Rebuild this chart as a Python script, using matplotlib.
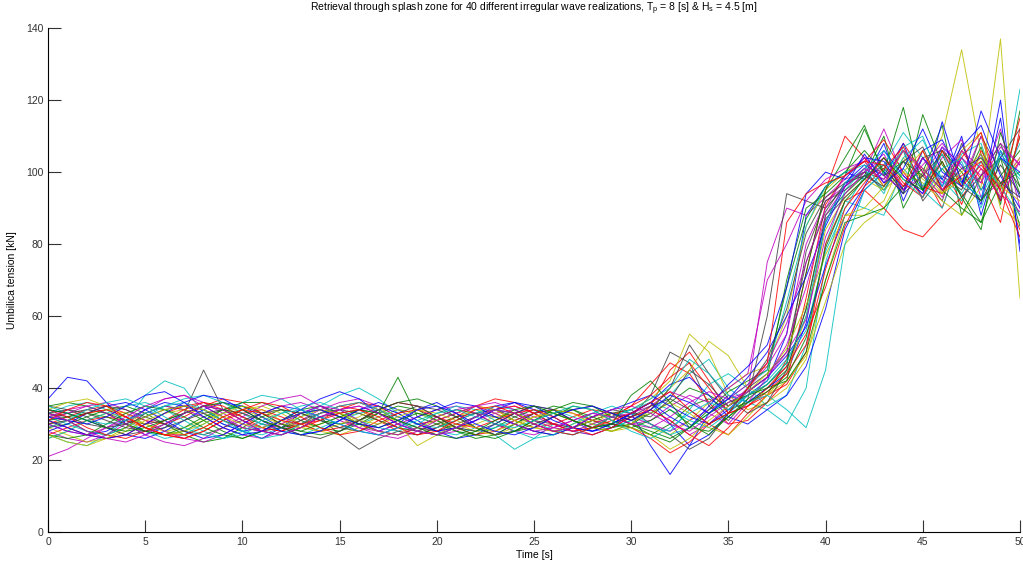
import numpy as np
import matplotlib
matplotlib.use('Agg')
import matplotlib.pyplot as plt

# time axis, one sample per second
time_s = list(range(0, 51))

# umbilical tension [kN], one list per wave realization
s01 = [37,43,42,36,30,27,29,33,35,32,28,26,29,33,35,33,30,28,30,34,36,33,29,27,30,33,34,31,28,29,33, 36,30,24,27,33,38, 42,55,88,96,100,98, 108,92,104,96,110,88,106,93]
s02 = [33,31,28,27,29,33,35,34,31,28,26,28,31,34,35,33,30,28,27,29,32,34,33,30,28,29,32,35,34,31,29, 27,30,35,37,34,36, 40,45,62,88,94,99, 110,90,100,113,88,99,108,94]
s03 = [30,32,34,35,33,31,30,32,35,37,36,33,30,29,31,34,36,35,32,30,31,33,35,34,31,29,30,32,34,33,30, 35,45,50,42,33,35, 38,48,72,95,110,104, 96,108,100,90,106,98,86,112]
s04 = [27,25,24,27,31,38,42,40,33,30,28,27,29,32,35,38,40,37,33,30,28,27,29,27,23,26,30,28,27,29,31, 33,38,44,48,40,36, 34,30,40,75,92,90, 88,101,95,90,105,108,92,123]
s05 = [21,23,26,29,31,33,35,34,32,29,27,26,28,31,34,36,37,35,32,30,28,29,31,33,34,32,30,29,31,33,32, 30,28,31,34,37,39, 75,90,88,93,98,100, 112,99,94,104,109,93,97,104]
s06 = [26,28,31,33,32,30,28,29,31,33,34,32,30,29,30,32,33,31,29,28,30,32,34,33,31,29,28,30,32,33,31, 29,27,31,36,40,44, 46,60,85,95,100,103, 96,103,99,110,134,105,96,104]
s07 = [32,33,34,33,31,30,31,33,45,34,32,30,29,30,32,33,34,33,31,29,28,30,32,34,33,31,30,29,31,33,32, 38,50,47,35,31,37, 60,94,92,90,96,100, 98,106,92,99,95,110,100,88]
s08 = [34,33,31,29,27,26,28,31,34,36,35,32,29,27,28,31,34,36,34,31,28,26,27,30,33,35,34,31,29,30,33, 24,16,24,33,38,36, 40,44,58,86,97,102, 99,108,95,107,102,91,115,80]
s09 = [29,30,32,34,35,33,30,27,25,26,29,32,34,33,31,30,31,33,43,32,30,28,27,29,32,34,33,31,29,28,30, 33,36,40,38,35,39, 43,70,90,94,99,112, 100,94,116,102,96,107,91,117]
s10 = [31,29,27,26,27,30,33,35,36,34,31,29,28,30,33,35,34,31,28,27,29,32,35,37,36,33,30,28,29,32,35, 41,47,44,36,30,31, 36,42,65,91,99,103, 109,100,93,103,91,106,97,84]
s11 = [33,35,36,34,31,28,26,27,30,33,36,38,37,34,31,29,30,32,34,33,31,29,28,29,31,33,34,32,30,29,31, 29,28,34,41,44,40, 35,38,52,80,95,101, 94,107,110,96,103,90,106,99]
s12 = [28,26,25,27,30,34,37,38,36,33,30,28,27,29,32,34,35,33,30,28,27,28,31,34,35,33,30,28,27,29,32, 34,31,27,30,35,40, 46,55,80,92,96,101, 105,95,99,107,97,110,94,89]
s13 = [30,31,33,34,33,30,28,27,29,32,34,35,33,30,28,27,29,32,34,33,31,29,30,32,33,31,29,28,30,33,34, 37,42,55,50,38,34, 36,40,48,70,88,88, 92,104,98,94,106,111,90,86]
s14 = [35,34,32,29,27,28,30,33,35,34,31,28,27,29,32,27,23,26,28,27,29,31,33,34,32,30,28,29,31,33,34, 30,27,23,26,33,40, 44,50,75,89,97,100, 95,103,99,92,108,95,104,112]
s15 = [30,28,27,28,31,34,36,35,33,30,28,29,31,34,37,39,37,33,30,28,27,29,32,35,36,34,31,29,28,30,33, 36,41,43,38,32,30, 34,38,46,62,84,95, 100,94,106,109,98,92,120,78]
s16 = [35,36,35,33,30,28,27,28,31,34,36,36,34,31,29,28,30,33,35,34,31,28,26,27,30,33,35,34,31,29,30, 28,26,29,34,39,42, 45,68,87,96,100,106, 100,118,95,101,94,86,104,85]
s17 = [27,29,31,32,31,29,27,26,28,31,33,34,32,30,28,29,31,34,36,35,32,29,27,28,31,33,34,33,31,30,29, 26,22,25,30,27,33, 38,41,50,80,92,95, 90,84,82,88,93,101,96,103]
s18 = [32,30,28,27,29,32,35,37,38,36,33,30,28,27,29,31,33,34,32,30,29,31,33,35,34,31,28,27,29,32,34, 36,34,31,29,33,38, 42,48,56,78,90,99, 102,111,104,98,94,103,96,108]
s19 = [31,33,35,36,34,31,28,26,25,27,30,33,35,36,34,31,29,28,30,32,34,35,33,30,28,27,29,31,33,32,30, 31,35,38,36,40,44, 70,80,92,98,101,103, 97,106,100,93,104,97,112,90]
s20 = [29,27,25,26,28,31,33,34,33,31,29,28,30,32,34,33,30,28,27,29,31,33,35,34,31,29,28,29,31,33,31, 33,36,33,29,27,32, 38,44,60,84,93,98, 95,100,97,92,88,96,137,65]
s21 = [33,32,30,29,30,32,34,35,34,31,29,28,29,31,33,34,33,31,29,28,30,32,33,32,30,28,27,29,32,34,33, 32,37,45,41,35,38, 41,46,78,92,95,99, 101,95,104,106,96,92,102,94]
s22 = [28,30,33,35,36,34,31,28,26,27,30,33,35,34,32,30,28,27,29,32,34,36,35,32,30,28,27,29,32,34,36, 38,35,32,30,34,39, 43,49,57,74,88,96, 106,99,94,114,97,105,92,110]
s23 = [31,32,33,32,30,28,27,29,32,34,35,33,30,28,27,28,31,34,36,37,35,32,29,27,28,31,33,34,32,30,29, 31,34,30,27,32,37, 41,47,72,95,104,113, 99,103,95,106,100,92,99,106]
s24 = [34,32,29,27,26,28,31,34,36,35,32,29,28,30,33,35,36,34,31,28,27,29,32,34,35,33,30,28,29,32,35, 38,43,47,40,33,35, 40,46,55,68,85,96, 101,107,96,94,104,111,95,115]
s25 = [26,28,31,33,35,36,34,31,28,26,27,30,33,35,36,34,31,29,28,30,33,35,34,31,28,26,27,30,33,35,33, 30,27,29,33,37,41, 45,64,85,96,100,102, 95,104,109,98,92,103,96,88]
s26 = [32,34,35,33,30,27,25,24,26,29,32,35,37,38,35,32,29,27,26,28,31,33,35,36,34,31,29,28,30,32,33, 35,39,37,33,30,36, 43,50,59,82,94,100, 104,96,102,108,101,97,107,102]
s27 = [34,36,37,35,32,29,27,28,30,33,35,34,31,29,28,30,32,35,30,24,27,30,28,27,29,32,34,33,30,28,30, 34,40,45,53,49,40, 38,42,49,64,80,86, 90,100,106,94,98,104,93,110]
s28 = [30,31,33,35,34,32,30,28,27,29,31,33,34,33,31,29,28,30,33,35,34,32,29,27,28,30,32,34,35,33,31, 34,40,52,44,37,33, 36,45,62,87,93,98, 102,94,99,105,93,99,104,96]
s29 = [31,29,27,26,27,30,33,36,38,37,34,31,28,27,28,31,34,35,33,30,28,29,31,34,36,35,32,29,28,30,33, 36,32,29,35,41,46, 52,68,94,100,98,104, 103,95,104,98,107,113,99,90]
s30 = [27,26,27,30,33,35,34,32,29,27,26,28,31,33,34,32,30,29,31,33,32,29,27,26,28,31,34,36,35,32,30, 27,25,29,33,36,38, 40,42,50,70,86,88, 90,96,101,95,90,86,97,100]
s31 = [29,31,33,34,32,29,27,26,28,31,34,36,35,32,29,27,28,31,33,34,32,30,29,31,33,34,32,29,27,29,32, 34,31,27,24,29,35, 39,44,52,73,90,97, 104,97,93,106,96,102,95,82]
s32 = [35,33,31,30,31,33,35,36,34,31,28,26,27,30,33,35,36,34,31,28,27,29,32,34,33,30,28,27,29,32,34, 37,40,48,44,38,36, 38,34,29,45,80,95, 100,106,96,105,97,93,104,98]
s33 = [30,28,27,29,32,35,37,38,35,32,29,28,30,33,35,34,31,28,27,29,32,34,35,33,30,28,29,31,33,32,30, 29,32,36,39,37,41, 47,58,75,90,99,104, 99,95,104,97,106,101,93,103]
s34 = [27,25,24,26,29,32,34,35,34,32,30,29,31,33,34,33,31,30,32,34,33,31,29,28,30,32,33,31,29,28,29, 27,23,26,31,35,39, 44,51,63,77,88,90, 96,106,101,94,100,105,96,92]
s35 = [33,34,33,31,29,28,29,31,33,34,33,31,29,27,26,28,31,34,36,35,32,29,28,30,33,35,34,31,29,30,32, 35,37,34,30,33,40, 48,62,83,93,97,99, 96,103,107,95,101,104,97,93]
s36 = [32,31,30,32,35,38,39,36,32,29,27,28,31,33,34,32,30,29,31,34,35,33,30,28,27,29,32,34,35,33,31, 34,38,36,33,37,43, 50,60,71,85,96,105, 97,101,112,100,96,117,104,100]
s37 = [34,33,31,29,28,29,31,33,35,36,34,31,29,28,30,32,34,33,31,29,27,26,28,31,34,35,33,31,29,30,38, 42,36,29,28,32,36, 39,43,54,79,92,98, 104,98,95,103,93,84,111,96]
s38 = [31,34,36,35,32,29,27,27,29,32,34,33,31,30,31,33,34,32,29,27,28,31,34,35,33,30,28,27,29,31,33, 36,39,34,30,33,40, 47,86,94,97,99,103, 102,96,106,95,99,103,92,110]
s39 = [29,31,34,36,37,35,32,29,27,26,28,31,33,34,32,30,28,27,29,31,33,34,32,30,29,31,33,35,34,31,28, 26,29,33,36,34,38, 41,47,60,86,97,101, 106,98,93,101,104,95,105,99]
s40 = [33,31,28,26,25,27,30,33,35,34,31,28,27,29,32,34,35,33,30,28,27,29,32,34,33,30,28,29,32,34,35, 33,30,28,32,36,39, 43,52,68,88,96,101, 98,106,101,95,104,99,108,102]

series = [s01, s02, s03, s04, s05, s06, s07, s08, s09, s10,
          s11, s12, s13, s14, s15, s16, s17, s18, s19, s20,
          s21, s22, s23, s24, s25, s26, s27, s28, s29, s30,
          s31, s32, s33, s34, s35, s36, s37, s38, s39, s40]

bad = [(i + 1, len(s)) for i, s in enumerate(series) if len(s) != len(time_s)]
assert not bad, f'wrong lengths: {bad}'

# old matlab colour order
matlab_colors = [(0, 0, 1), (0, 0.5, 0), (1, 0, 0), (0, 0.75, 0.75),
                 (0.75, 0, 0.75), (0.75, 0.75, 0), (0.25, 0.25, 0.25)]

plt.rcParams['font.family'] = ['Liberation Sans', 'DejaVu Sans']

fig = plt.figure(figsize=(10.23, 5.63), dpi=100)
ax = fig.add_axes([0.047, 0.055, 0.950, 0.895])

for i, s in enumerate(series):
    ax.plot(time_s, s, color=matlab_colors[i % 7], lw=0.7, alpha=0.85)

ax.set_xlim(0, 50)
ax.set_ylim(0, 140)
ax.set_xticks(range(0, 51, 5))
ax.set_yticks(range(0, 141, 20))
ax.spines['top'].set_visible(False)
ax.spines['right'].set_visible(False)
ax.tick_params(direction='in', length=9, width=0.8, labelsize=7.5, colors='#333333')
for lab in ax.get_xticklabels():
    lab.set_fontfamily(['Liberation Sans Narrow', 'Liberation Sans'])

ax.set_xlabel('Time [s]', fontsize=7.5, family=['Liberation Sans Narrow', 'Liberation Sans'], labelpad=2)
ax.set_ylabel('Umbilica tension [kN]', fontsize=7.5, labelpad=6)
ax.set_title(r'Retrieval through splash zone for 40 different irregular wave realizations, '
             r'$\mathregular{T_p}$ = 8 [s] & $\mathregular{H_s}$ = 4.5 [m]', fontsize=7.5, pad=12)

fig.savefig('out.png', dpi=100)
